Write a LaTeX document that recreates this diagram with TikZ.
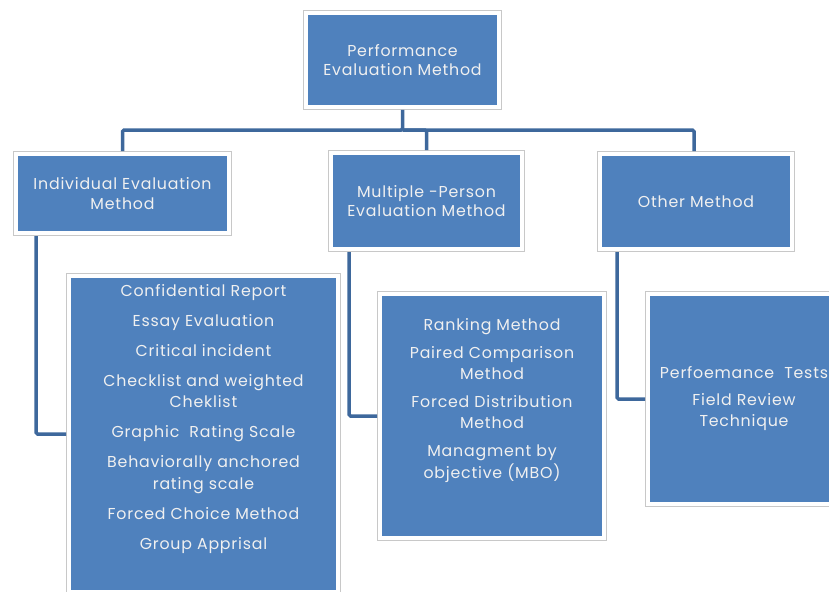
\documentclass[tikz,border=0pt]{standalone}
\usepackage{fontspec}
\setmainfont[LetterSpace=5]{Poppins}
\usetikzlibrary{positioning}

\definecolor{boxblue}{HTML}{4F81BD}
\definecolor{linkblue}{HTML}{3E689C}
\definecolor{framegray}{HTML}{C8C8C8}

\tikzset{
  pebox/.style={rectangle, fill=boxblue, draw=white, line width=4pt,
    preaction={draw=framegray, line width=5.5pt},
    outer sep=2.75pt, inner sep=0pt, text=white!94!black, align=center,
    font=\fontsize{15.8}{19.5}\selectfont},
  petext/.style={text=white!94!black, align=center, inner sep=0pt,
    font=\fontsize{15.8}{21.5}\selectfont},
  link/.style={draw=linkblue, line width=3.5pt, rounded corners=1.5pt}
}

\begin{document}
\begin{tikzpicture}[x=1pt, y=-1pt]
  \useasboundingbox (0,0) rectangle (829,591);
  \clip (0,0) rectangle (829,591);

  % heading boxes
  \node[pebox, minimum width=193.5pt, minimum height=94.5pt] (root) at (402.5,60)
    {Performance\\Evaluation Method};
  \node[pebox, minimum width=213.5pt, minimum height=79.5pt] (indiv) at (122.5,193.5)
    {Individual Evaluation\\Method};
  \node[pebox, minimum width=191.5pt, minimum height=96.5pt] (multi) at (426.5,201)
    {Multiple -Person\\Evaluation Method};
  \node[pebox, minimum width=192.5pt, minimum height=95.5pt] (other) at (696,201.5)
    {Other Method};

  % list boxes
  \node[pebox, minimum width=269.5pt, minimum height=316.5pt] (indivlist) at (203.5,434) {};
  \node[pebox, minimum width=224.5pt, minimum height=244.5pt] (multilist) at (492,416) {};
  \node[pebox, minimum width=194.5pt, minimum height=210.5pt] (otherlist) at (745,399) {};

  % list texts
  \node[petext, anchor=north] (indivitems) at (203.5,284) {Confidential Report\\[8.5pt]
    Essay Evaluation\\[8.5pt]
    Critical incident\\[8.5pt]
    Checklist and weighted\\Cheklist\\[8.5pt]
    Graphic~ Rating Scale\\[8.5pt]
    Behaviorally anchored\\rating scale\\[8.5pt]
    Forced Choice Method\\[8.5pt]
    Group Apprisal};
  \node[petext, anchor=north] (multiitems) at (492,318) {Ranking Method\\[6.3pt]
    Paired Comparison\\Method\\[6.3pt]
    Forced Distribution\\Method\\[6.3pt]
    Managment by\\objective (MBO)};
  \node[petext, anchor=north] (otheritems) at (744,366) {Perfoemance~ Tests\\[5.5pt]
    Field Review\\Technique};

  % connectors
  \coordinate (bus) at (402.5,130);
  \draw[link] (root.south) -- (bus) -| (indiv.north);
  \draw[link] (bus) -| (multi.north);
  \draw[link] (bus) -| ([xshift=-2pt]other.north);
  \draw[link] ([xshift=23pt]indiv.south west) |- (indivlist.west);
  \draw[link] ([xshift=21pt]multi.south west) |- (multilist.west);
  \draw[link] ([xshift=20pt]other.south west) |- (otherlist.west);
\end{tikzpicture}
\end{document}
